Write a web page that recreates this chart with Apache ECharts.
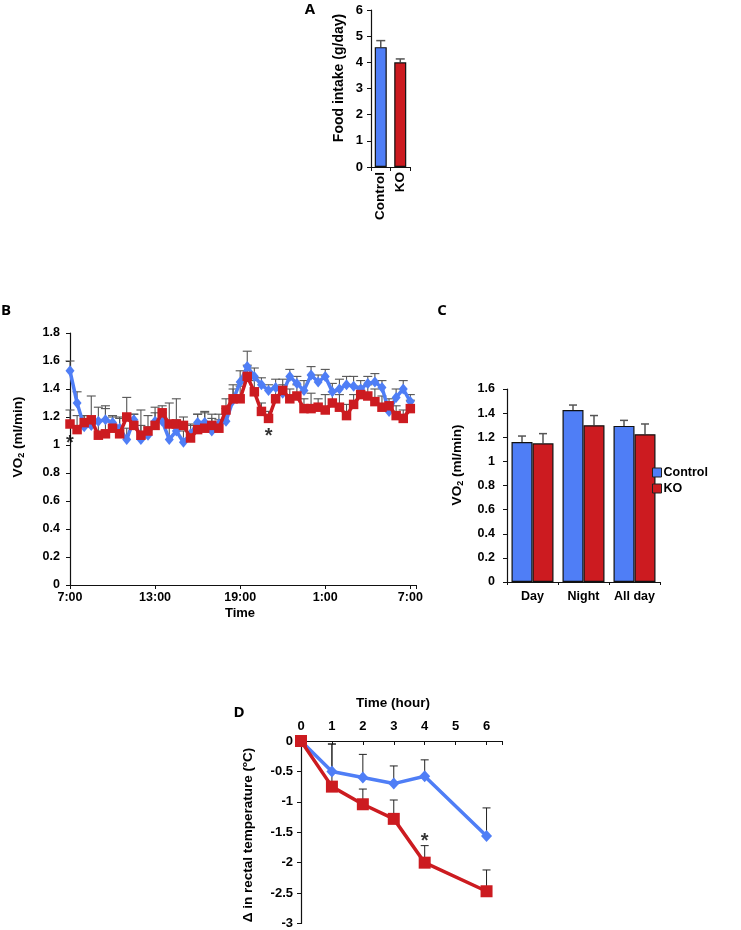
<!DOCTYPE html>
<html><head><meta charset="utf-8">
<script src="https://cdn.jsdelivr.net/npm/echarts@6/dist/echarts.min.js"></script>
<style>html,body{margin:0;padding:0;background:#fff}#c{width:741px;height:930px}</style>
</head><body><div id="c"></div>
<script>
// ---------- Panel A: food intake ----------
const foodCategories = ['Control', 'KO'];
const foodValues = [4.58, 4.0];
const foodErrors = [0.25, 0.13];

// ---------- Panel B: VO2 time course (half-hourly, hours after 7:00) ----------
const timeHours = [0,0.5,1,1.5,2,2.5,3,3.5,4,4.5,5,5.5,6,6.5,7,7.5,8,8.5,9,9.5,10,10.5,11,11.5,12,12.5,13,13.5,14,14.5,15,15.5,16,16.5,17,17.5,18,18.5,19,19.5,20,20.5,21,21.5,22,22.5,23,23.5,24];
const timeTickLabels = ['7:00', '13:00', '19:00', '1:00', '7:00'];
const vo2Control = [1.53,1.30,1.13,1.14,1.17,1.18,1.16,1.12,1.04,1.18,1.04,1.07,1.17,1.17,1.04,1.10,1.02,1.08,1.16,1.16,1.10,1.15,1.17,1.32,1.45,1.56,1.49,1.43,1.39,1.41,1.37,1.49,1.44,1.39,1.50,1.45,1.49,1.38,1.40,1.43,1.42,1.40,1.44,1.45,1.41,1.24,1.34,1.40,1.31];
const vo2ControlErr = [0.07,0.08,0.08,0.05,0.10,0.08,0.05,0.07,0.08,0.04,0.10,0.06,0.10,0.06,0.10,0.08,0.08,0.06,0.06,0.07,0.09,0.07,0.09,0.08,0.08,0.11,0.06,0.05,0.04,0.06,0.06,0.05,0.05,0.07,0.06,0.05,0.05,0.06,0.07,0.06,0.07,0.06,0.05,0.06,0.05,0.05,0.06,0.06,0.05];
const vo2KO = [1.15,1.11,1.16,1.18,1.07,1.08,1.12,1.08,1.20,1.14,1.07,1.10,1.14,1.23,1.15,1.15,1.14,1.05,1.11,1.12,1.14,1.12,1.25,1.33,1.33,1.49,1.38,1.24,1.19,1.33,1.39,1.33,1.35,1.26,1.26,1.27,1.25,1.30,1.27,1.21,1.29,1.36,1.35,1.31,1.27,1.28,1.21,1.19,1.26];
const vo2KOErr = [0.10,0.10,0.05,0.17,0.10,0.20,0.08,0.12,0.14,0.08,0.18,0.11,0.09,0.05,0.15,0.18,0.06,0.10,0.11,0.12,0.08,0.06,0.08,0.10,0.09,0.08,0.08,0.06,0.05,0.07,0.08,0.07,0.08,0.07,0.11,0.06,0.11,0.08,0.09,0.08,0.07,0.06,0.08,0.09,0.08,0.05,0.07,0.06,0.06];
const vo2Stars = [[0, 1.036], [14, 1.086]];

// ---------- Panel C: VO2 averages ----------
const periodCategories = ['Day', 'Night', 'All day'];
const periodControl = [1.16, 1.425, 1.294];
const periodControlErr = [0.05, 0.042, 0.046];
const periodKO = [1.15, 1.30, 1.225];
const periodKOErr = [0.08, 0.08, 0.085];

// ---------- Panel D: rectal temperature ----------
const tempHours = [0, 1, 2, 3, 4, 6];
const tempControl = [0, -0.50, -0.60, -0.70, -0.58, -1.56];
const tempControlErr = [0, 0.45, 0.38, 0.29, 0.27, 0.46];
const tempKO = [0, -0.75, -1.04, -1.28, -2.00, -2.47];
const tempKOErr = [0, 0.70, 0.25, 0.31, 0.28, 0.35];
const tempStars = [[4, -1.59]];

// ---------- styles ----------
const BLUE = '#4F7EF6', RED = '#CC1B20';
const FONT = 'Liberation Sans';
const lbl = size => ({ color: '#000', fontFamily: FONT, fontWeight: 'bold', fontSize: size });
const axLine = { show: true, lineStyle: { color: '#111', width: 1.2 } };
const axTick = { show: true, length: 4, lineStyle: { color: '#111', width: 1 } };

function errSeries(xi, yi, xs, ys, es, o) {
  return {
    type: 'custom', xAxisIndex: xi, yAxisIndex: yi, z: o.z || 1, silent: true,
    data: xs.map((x, i) => [x, ys[i], es[i]]),
    renderItem(params, api) {
      const x = api.value(0), y = api.value(1), e = api.value(2);
      if (!e) return null;
      const p0 = api.coord([x, y]), p1 = api.coord([x, y + e]);
      const dx = o.dx || 0, h = o.cap / 2;
      const st = { stroke: o.color, lineWidth: o.width, fill: null };
      return { type: 'group', children: [
        { type: 'line', shape: { x1: p0[0] + dx, y1: p0[1], x2: p1[0] + dx, y2: p1[1] }, style: st },
        { type: 'line', shape: { x1: p1[0] + dx - h, y1: p1[1], x2: p1[0] + dx + h, y2: p1[1] }, style: st }
      ]};
    }
  };
}
function starSeries(xi, yi, pts) {
  return {
    type: 'scatter', xAxisIndex: xi, yAxisIndex: yi, z: 10, silent: true,
    symbolSize: 1, itemStyle: { color: 'rgba(0,0,0,0)' }, data: pts,
    label: { show: true, position: 'inside', formatter: '*', offset: [0, 4],
      color: '#000', fontFamily: FONT, fontWeight: 'bold', fontSize: 20 }
  };
}
function titleText(x, y, text, size, rot, rich) {
  const t = { type: 'text', x, y, style: { text, fill: '#000', font: 'bold ' + size + 'px "Liberation Sans"',
    align: 'center', verticalAlign: 'middle' } };
  if (rot) t.rotation = Math.PI / 2;
  if (rich) t.style.rich = rich;
  return t;
}
const voRich = {
  a: { fontFamily: FONT, fontWeight: 'bold', fontSize: 13.5, fill: '#000', lineHeight: 16 },
  s: { fontFamily: FONT, fontWeight: 'bold', fontSize: 9, fill: '#000', lineHeight: 16, padding: [8, 0, 0, 0] }
};
const panelFont = 'bold 15px "Open Sans"';
const TICK = 12.5;

const chart = echarts.init(document.getElementById('c'), null, { renderer: 'canvas' });
chart.setOption({
  animation: false,
  backgroundColor: '#fff',
  grid: [
    { left: 371, top: 10, width: 39, height: 157 },
    { left: 70, top: 333, width: 346, height: 252 },
    { left: 507, top: 389, width: 153, height: 193 },
    { left: 301, top: 741, width: 201, height: 185 }
  ],
  xAxis: [
    { gridIndex: 0, type: 'category', data: foodCategories, axisLine: axLine, axisTick: axTick,
      axisLabel: Object.assign({ rotate: 90, margin: 5, interval: 0 }, lbl(13.5)) },
    { gridIndex: 1, type: 'value', min: 0, max: 24.4, interval: 6, splitLine: { show: false },
      axisLine: axLine, axisTick: axTick,
      axisLabel: Object.assign({ margin: 6, formatter: v => (v % 6 === 0 ? timeTickLabels[v / 6] : '') }, lbl(TICK)) },
    { gridIndex: 2, type: 'category', data: periodCategories, axisLine: axLine,
      axisTick: { show: true, length: 3, lineStyle: { color: '#111' } },
      axisLabel: Object.assign({ margin: 8, interval: 0 }, lbl(TICK)) },
    { gridIndex: 3, type: 'value', position: 'top', min: 0, max: 6.5, interval: 1, splitLine: { show: false },
      axisLine: Object.assign({ onZero: false }, axLine),
      axisTick: { show: true, inside: true, length: 4, lineStyle: { color: '#111' } },
      axisLabel: Object.assign({ margin: 8, formatter: v => (Number.isInteger(v) ? String(v) : '') }, lbl(13)) }
  ],
  yAxis: [
    { gridIndex: 0, type: 'value', min: 0, max: 6, interval: 1, splitLine: { show: false },
      axisLine: axLine, axisTick: axTick, axisLabel: Object.assign({ margin: 8 }, lbl(13)) },
    { gridIndex: 1, type: 'value', min: 0, max: 1.8, interval: 0.2, splitLine: { show: false },
      axisLine: axLine, axisTick: axTick, axisLabel: Object.assign({ margin: 10 }, lbl(TICK)) },
    { gridIndex: 2, type: 'value', min: 0, max: 1.6, interval: 0.2, splitLine: { show: false },
      axisLine: axLine, axisTick: axTick, axisLabel: Object.assign({ margin: 12 }, lbl(TICK)) },
    { gridIndex: 3, type: 'value', min: -3, max: 0, interval: 0.5, splitLine: { show: false },
      axisLine: axLine, axisTick: axTick, axisLabel: Object.assign({ margin: 8 }, lbl(13)) }
  ],
  legend: {
    orient: 'vertical', left: 647, top: 461, itemWidth: 9, itemHeight: 9, itemGap: 3,
    textStyle: { color: '#000', fontFamily: FONT, fontWeight: 'bold', fontSize: TICK, padding: [0, 0, 0, -3] },
    data: [
      { name: 'Control', icon: 'rect', itemStyle: { color: BLUE, borderColor: '#222', borderWidth: 1 } },
      { name: 'KO', icon: 'rect', itemStyle: { color: RED, borderColor: '#222', borderWidth: 1 } }
    ]
  },
  series: [
    // A
    { type: 'bar', name: 'Food', xAxisIndex: 0, yAxisIndex: 0, barWidth: 12, z: 2,
      data: foodValues.map((v, i) => ({ value: v, itemStyle: { color: i === 0 ? BLUE : RED, borderColor: '#111', borderWidth: 1.2 } })) },
    errSeries(0, 0, [0, 1], foodValues, foodErrors, { cap: 9, color: '#555', width: 1.5, z: 1 }),
    // B
    errSeries(1, 1, timeHours, vo2Control, vo2ControlErr, { cap: 9, color: '#555', width: 1.1, z: 1 }),
    errSeries(1, 1, timeHours, vo2KO, vo2KOErr, { cap: 9, color: '#555', width: 1.1, z: 1 }),
    { type: 'line', name: 'Control B', xAxisIndex: 1, yAxisIndex: 1, z: 3,
      data: timeHours.map((h, i) => [h, vo2Control[i]]),
      symbol: 'diamond', symbolSize: [9, 11], lineStyle: { color: BLUE, width: 3.5 }, itemStyle: { color: BLUE } },
    { type: 'line', name: 'KO B', xAxisIndex: 1, yAxisIndex: 1, z: 4,
      data: timeHours.map((h, i) => [h, vo2KO[i]]),
      symbol: 'rect', symbolSize: 9.5, lineStyle: { color: RED, width: 3.5 }, itemStyle: { color: RED } },
    starSeries(1, 1, vo2Stars),
    // C
    { type: 'bar', name: 'Control', xAxisIndex: 2, yAxisIndex: 2, barWidth: 21, barGap: '0%', z: 2,
      data: periodControl, itemStyle: { color: BLUE, borderColor: '#111', borderWidth: 1.2 } },
    { type: 'bar', name: 'KO', xAxisIndex: 2, yAxisIndex: 2, barWidth: 21, barGap: '0%', z: 2,
      data: periodKO, itemStyle: { color: RED, borderColor: '#111', borderWidth: 1.2 } },
    errSeries(2, 2, [0, 1, 2], periodControl, periodControlErr, { cap: 8, color: '#555', width: 1.5, dx: -10.5, z: 1 }),
    errSeries(2, 2, [0, 1, 2], periodKO, periodKOErr, { cap: 8, color: '#555', width: 1.5, dx: 10.5, z: 1 }),
    // D
    errSeries(3, 3, tempHours, tempControl, tempControlErr, { cap: 8, color: '#222', width: 1, z: 1 }),
    errSeries(3, 3, tempHours, tempKO, tempKOErr, { cap: 8, color: '#222', width: 1, z: 1 }),
    { type: 'line', name: 'Control D', xAxisIndex: 3, yAxisIndex: 3, z: 3,
      data: tempHours.map((h, i) => [h, tempControl[i]]),
      symbol: 'diamond', symbolSize: [11, 12], lineStyle: { color: BLUE, width: 3.5 }, itemStyle: { color: BLUE } },
    { type: 'line', name: 'KO D', xAxisIndex: 3, yAxisIndex: 3, z: 4,
      data: tempHours.map((h, i) => [h, tempKO[i]]),
      symbol: 'rect', symbolSize: 12, lineStyle: { color: RED, width: 3.5 }, itemStyle: { color: RED } },
    starSeries(3, 3, tempStars)
  ],
  graphic: [
    { type: 'text', x: 310, y: 10, style: { text: 'A', font: panelFont, fill: '#000', align: 'center', verticalAlign: 'middle' } },
    { type: 'text', x: 6, y: 311, style: { text: 'B', font: panelFont, fill: '#000', align: 'center', verticalAlign: 'middle' } },
    { type: 'text', x: 442, y: 311, style: { text: 'C', font: panelFont, fill: '#000', align: 'center', verticalAlign: 'middle' } },
    { type: 'text', x: 239, y: 713, style: { text: 'D', font: panelFont, fill: '#000', align: 'center', verticalAlign: 'middle' } },
    titleText(339, 78, 'Food intake (g/day)', 14, true),
    titleText(18, 437, '{a|VO}{s|2}{a| (ml/min)}', 13.5, true, voRich),
    titleText(457, 465, '{a|VO}{s|2}{a| (ml/min)}', 13.5, true, voRich),
    titleText(248, 835, 'Δ in rectal temperature (ºC)', 13.5, true),
    titleText(240, 613, 'Time', 13),
    titleText(393, 703, 'Time (hour)', 13.5)
  ]
});
</script></body></html>
